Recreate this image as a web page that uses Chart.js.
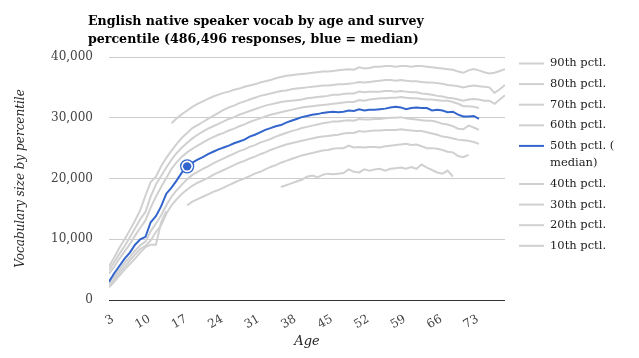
<!DOCTYPE html>
<html>
<head>
<meta charset="utf-8">
<script src="https://cdn.jsdelivr.net/npm/chart.js@4.4.0/dist/chart.umd.min.js"></script>
<style>
  html, body { margin: 0; padding: 0; background: #fff; }
  #wrap { width: 639px; height: 358px; }
</style>
</head>
<body>
<div id="wrap"><canvas id="chart" width="639" height="358"></canvas></div>
<script>
// Ages on the x axis and the tick labels that are shown
const ages = [3, 4, 5, 6, 7, 8, 9, 10, 11, 12,
    13, 14, 15, 16, 17, 18, 19, 20, 21, 22,
    23, 24, 25, 26, 27, 28, 29, 30, 31, 32,
    33, 34, 35, 36, 37, 38, 39, 40, 41, 42,
    43, 44, 45, 46, 47, 48, 49, 50, 51, 52,
    53, 54, 55, 56, 57, 58, 59, 60, 61, 62,
    63, 64, 65, 66, 67, 68, 69, 70, 71, 72,
    73, 74, 75, 76, 77, 78, 79];
const xTickAges = [3, 10, 17, 24, 31, 38, 45, 52, 59, 66, 73];
const yTickValues = [0, 10000, 20000, 30000, 40000];

const seriesNames = ['90th pctl.', '80th pctl.', '70th pctl.', '60th pctl.', '50th pctl. (\nmedian)',
    '40th pctl.', '30th pctl.', '20th pctl.', '10th pctl.'];

// vocab size per age, one row of 10 ages per line (3-12, 13-22, ...)
const p90 = [null, null, null, null, null, null, null, null, null, null,
    null, null, 29100, 29900, 30600, 31200, 31800, 32300, 32700, 33100,
    33500, 33800, 34100, 34300, 34600, 34800, 35100, 35300, 35500, 35800,
    36000, 36200, 36500, 36700, 36900, 37000, 37100, 37200, 37300, 37400,
    37500, 37600, 37600, 37700, 37800, 37900, 38000, 37900, 38300, 38100,
    38200, 38400, 38400, 38500, 38500, 38400, 38500, 38500, 38400, 38500,
    38500, 38400, 38300, 38200, 38100, 38000, 37900, 37600, 37400, 37800,
    38000, 37800, 37500, 37300, 37400, 37700, 38000];
const p80 = [5500, 7000, 8600, 10000, 11500, 13100, 14800, 17200, 19400, 20300,
    22000, 23400, 24600, 25700, 26700, 27500, 28300, 28800, 29300, 29800,
    30300, 30800, 31300, 31700, 32000, 32400, 32700, 33000, 33300, 33600,
    33800, 34000, 34200, 34400, 34500, 34700, 34800, 34900, 35000, 35100,
    35200, 35300, 35300, 35400, 35500, 35500, 35600, 35700, 35900, 35800,
    35900, 36000, 36100, 36200, 36200, 36100, 36200, 36100, 36000, 36000,
    35900, 35800, 35800, 35700, 35600, 35400, 35300, 35200, 35000, 35200,
    35300, 35200, 35100, 35000, 34100, 34700, 35400];
const p70 = [4900, 6200, 7600, 8900, 10300, 11800, 13300, 14500, 17000, 19000,
    20400, 21800, 23100, 24200, 25100, 25900, 26600, 27200, 27700, 28200,
    28600, 29000, 29400, 29800, 30100, 30500, 30800, 31100, 31400, 31700,
    32000, 32200, 32400, 32600, 32700, 32800, 32900, 33000, 33200, 33300,
    33400, 33500, 33600, 33800, 33800, 33900, 34000, 34000, 34300, 34200,
    34300, 34300, 34300, 34400, 34400, 34300, 34400, 34300, 34200, 34200,
    34000, 33900, 33800, 33600, 33500, 33300, 33200, 33000, 32800, 33000,
    33100, 33000, 32800, 32800, 32300, 33000, 33700];
const p60 = [4300, 5500, 6800, 8000, 9200, 10600, 11900, 13100, 15200, 17000,
    18600, 20100, 21600, 22700, 23600, 24300, 24900, 25400, 25900, 26400,
    26800, 27200, 27500, 27900, 28200, 28600, 28900, 29300, 29600, 29900,
    30200, 30500, 30700, 30900, 31100, 31300, 31500, 31700, 31800, 31900,
    32000, 32100, 32200, 32300, 32400, 32500, 32600, 32600, 32900, 32800,
    33000, 33100, 33200, 33200, 33300, 33300, 33400, 33300, 33200, 33200,
    33100, 33000, 33000, 32900, 32800, 32800, 32600, 32300, 31900, 31900,
    31800, 31600, null, null, null, null, null];
const p50 = [3000, 4400, 5600, 6800, 7800, 9100, 10000, 10400, 12800, 13800,
    15400, 17500, 18500, 19700, 21000, 22000, 22600, 23100, 23500, 24000,
    24400, 24800, 25100, 25400, 25800, 26100, 26400, 26900, 27200, 27600,
    28000, 28300, 28600, 28800, 29200, 29500, 29800, 30100, 30300, 30500,
    30600, 30800, 30900, 31000, 30900, 31000, 31200, 31100, 31400, 31200,
    31300, 31300, 31400, 31500, 31700, 31800, 31700, 31400, 31600, 31700,
    31600, 31600, 31200, 31300, 31200, 30900, 31000, 30500, 30200, 30200,
    30300, 29800, null, null, null, null, null];
const p40 = [2900, 3900, 5000, 6100, 7100, 8100, 9000, 9600, 11300, 12600,
    13900, 15600, 17000, 18100, 19000, 19900, 20600, 21100, 21600, 22000,
    22500, 22900, 23300, 23700, 24100, 24500, 24800, 25200, 25500, 25900,
    26200, 26500, 26900, 27200, 27500, 27800, 28000, 28300, 28500, 28700,
    28900, 29100, 29200, 29400, 29400, 29500, 29600, 29500, 29800, 29700,
    29700, 29800, 29800, 29900, 30000, 30000, 30100, 29900, 29800, 29700,
    29600, 29500, 29500, 29300, 29000, 28900, 28600, 28200, 28100, 28700,
    28400, 28000, null, null, null, null, null];
const p30 = [2500, 3400, 4500, 5500, 6500, 7500, 8400, 8900, 9800, 11200,
    12300, 14200, 15600, 16600, 17500, 18200, 18800, 19300, 19700, 20100,
    20600, 21000, 21400, 21800, 22200, 22600, 22900, 23300, 23600, 24000,
    24300, 24700, 25000, 25300, 25600, 25800, 26000, 26200, 26400, 26600,
    26800, 26900, 27000, 27100, 27200, 27400, 27500, 27500, 27800, 27700,
    27800, 27900, 27900, 28000, 28000, 28000, 28100, 28000, 27900, 27800,
    27800, 27600, 27400, 27200, 26900, 26800, 26600, 26400, 26300, 26200,
    26000, 25700, null, null, null, null, null];
const p20 = [2100, 3000, 4000, 5000, 5900, 6800, 7800, 8700, 9100, 9100,
    12800, 14600, null, null, null, 15600, 16200, 16600, 17000, 17400,
    17800, 18100, 18500, 18900, 19300, 19700, 20000, 20400, 20800, 21100,
    21500, 21900, 22200, 22600, 22900, 23200, 23500, 23800, 24000, 24200,
    24400, 24600, 24700, 24900, 25000, 25000, 25400, 25100, 25200, 25100,
    25200, 25200, 25100, 25300, 25400, 25500, 25600, 25700, 25500, 25600,
    25300, 25000, 25000, 24900, 24700, 24400, 24300, 23700, 23500, 23900,
    null, null, null, null, null, null, null];
const p10 = [null, null, null, null, null, null, null, null, null, null,
    null, null, null, null, null, null, null, null, null, null,
    null, null, null, null, null, null, null, null, null, null,
    null, null, null, 18600, 18900, 19200, 19500, 19800, 20300, 20500,
    20200, 20600, 20800, 20700, 20800, 20900, 21500, 21100, 21000, 21500,
    21300, 21500, 21600, 21300, 21600, 21700, 21800, 21600, 21900, 21600,
    22300, 21800, 21400, 21000, 20800, 21300, 20300, null, null, null,
    null, null, null, null, null, null, null];

const highlightAge = 18;
const MEDIAN = 4;
const BLUE = '#3366cc';
const GRAY = '#d0d0d0';
const SERIF = '"DejaVu Serif", serif';

const allSeries = [p90, p80, p70, p60, p50, p40, p30, p20, p10];

Chart.defaults.font.family = SERIF;

const decor = {
    id: 'decor',
    afterDatasetsDraw(chart) {
        // selected point on the median line
        const ctx = chart.ctx;
        const pt = chart.getDatasetMeta(MEDIAN).data[ages.indexOf(highlightAge)];
        ctx.save();
        ctx.beginPath();
        ctx.arc(pt.x, pt.y, 6.5, 0, Math.PI * 2);
        ctx.fillStyle = '#fff';
        ctx.fill();
        ctx.lineWidth = 1.3;
        ctx.strokeStyle = BLUE;
        ctx.stroke();
        ctx.beginPath();
        ctx.arc(pt.x, pt.y, 4.2, 0, Math.PI * 2);
        ctx.fillStyle = BLUE;
        ctx.fill();
        ctx.restore();
    },
    afterDraw(chart) {
        const ctx = chart.ctx;
        ctx.save();
        // title
        ctx.fillStyle = '#000';
        ctx.font = 'bold 12.6px ' + SERIF;
        ctx.textBaseline = 'alphabetic';
        ctx.fillText('English native speaker vocab by age and survey', 88, 25);
        ctx.fillText('percentile (486,496 responses, blue = median)', 88, 43);

        // legend
        ctx.font = '11.5px ' + SERIF;
        ctx.textBaseline = 'middle';
        let y = 63.5;
        chart.data.datasets.forEach((ds, i) => {
            const lines = seriesNames[i].split('\n');
            ctx.beginPath();
            ctx.moveTo(519, y);
            ctx.lineTo(544, y);
            ctx.lineWidth = 2;
            ctx.strokeStyle = ds.borderColor;
            ctx.stroke();
            ctx.fillStyle = '#222';
            lines.forEach((t, k) => ctx.fillText(t, 550, y + k * 17.5));
            y += 20.6 + (lines.length - 1) * 17.5;
        });
        ctx.restore();
    }
};

new Chart(document.getElementById('chart'), {
    type: 'line',
    data: {
        labels: ages,
        datasets: allSeries.map((d, i) => ({
            label: seriesNames[i].replace('\n', ''),
            data: d,
            borderColor: i === MEDIAN ? BLUE : GRAY,
            borderWidth: 2,
            pointRadius: 0,
            tension: 0,
            fill: false,
            order: i === MEDIAN ? 0 : 1,
        })),
    },
    options: {
        responsive: false,
        animation: false,
        events: [],
        layout: { padding: { top: 57, right: 134, left: 0, bottom: 0 } },
        plugins: {
            legend: { display: false },
            tooltip: { enabled: false },
        },
        scales: {
            x: {
                type: 'linear',
                min: 3,
                max: 79,
                afterBuildTicks: s => { s.ticks = xTickAges.map(v => ({ value: v })); },
                afterFit: s => { s.height = 58; },
                grid: { display: false },
                border: { display: false },
                ticks: { minRotation: 30, maxRotation: 30, color: '#444', font: { size: 12 }, padding: 4, labelOffset: 4 },
                title: { display: true, text: 'Age', color: '#222', font: { size: 13, style: 'italic' }, padding: { top: 0, bottom: 9 } },
            },
            y: {
                min: 0,
                max: 40000,
                afterBuildTicks: s => { s.ticks = yTickValues.map(v => ({ value: v })); },
                afterFit: s => { s.width = 109; },
                grid: { color: c => c.tick.value === 0 ? '#333' : '#ccc', drawTicks: false },
                border: { display: false },
                ticks: { padding: 16, color: '#444', font: { size: 12 }, callback: v => v.toLocaleString('en-US') },
                title: { display: true, text: 'Vocabulary size by percentile', color: '#222', font: { size: 12, style: 'italic' }, padding: { top: 14, bottom: 0 } },
            },
        },
    },
    plugins: [decor],
});
</script>
</body>
</html>
